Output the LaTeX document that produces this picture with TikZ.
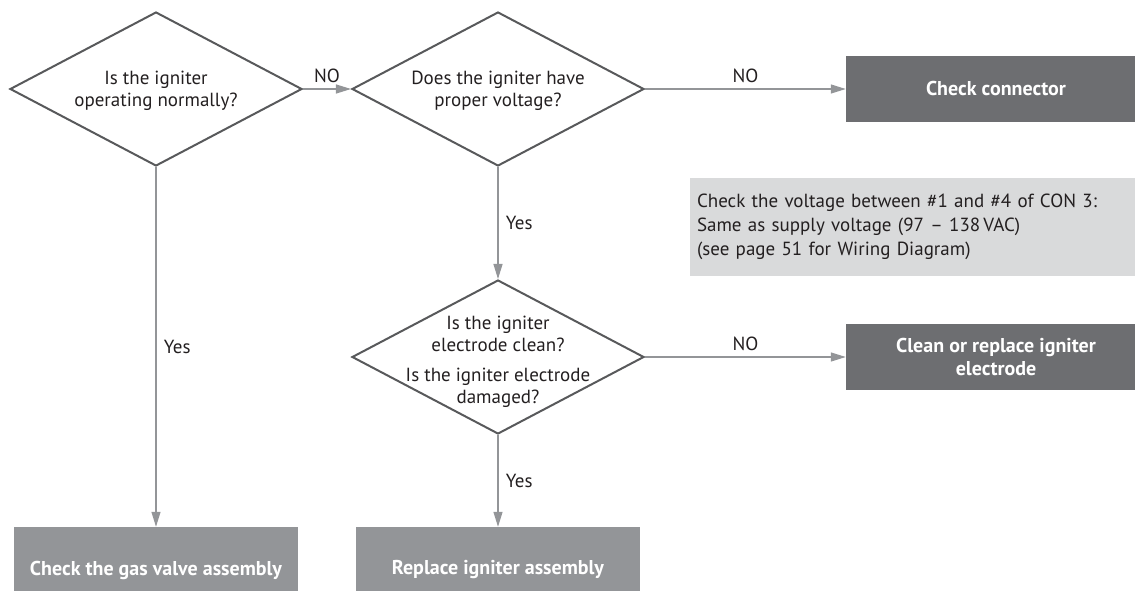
\documentclass[tikz,border=0pt]{standalone}
\usepackage{fontspec}
\setmainfont{PT Sans}
\usetikzlibrary{arrows.meta,shapes.geometric}
\definecolor{ink}{HTML}{231F20}
\definecolor{edge}{HTML}{58595B}
\definecolor{wire}{HTML}{939598}
\definecolor{darkbox}{HTML}{6D6E71}
\definecolor{midbox}{HTML}{939598}
\definecolor{notebox}{HTML}{D9DADB}

\begin{document}
\begin{tikzpicture}[x=1pt,y=-1pt,>={Triangle[length=15pt,width=9pt]},
  every node/.style={font=\fontsize{19}{22.5}\selectfont,text=ink},
  decision/.style={diamond,draw=edge,line width=2pt,minimum width=292pt,
    minimum height=154pt,inner sep=0pt},
  qtext/.style={align=center,inner sep=0pt},
  action/.style={fill=#1,minimum width=300pt,minimum height=66pt,text=white,
    font=\bfseries\fontsize{20}{23}\selectfont,align=center},
  endbox/.style={fill=midbox,minimum width=284pt,minimum height=86pt,text=white,
    font=\bfseries\fontsize{20}{23}\selectfont},
  hintbox/.style={fill=notebox,minimum width=445pt,minimum height=98pt,
    text width=431pt,inner xsep=7pt,align=left,
    font=\fontsize{19}{24}\selectfont},
  flow/.style={->,draw=wire,line width=1.2pt}]
  \useasboundingbox (0,0) rectangle (1135,591);

  % questions
  \node[decision] (q1) at (156,89) {};
  \node[qtext] (q1t) at (156,91) {Is the igniter\\operating normally?};
  \node[decision] (q2) at (498,89) {};
  \node[qtext] (q2t) at (498,91) {Does the igniter have\\proper voltage?};
  \node[decision] (q3) at (498,357) {};
  \node[qtext] (q3t) at (498,362) {Is the igniter\\electrode clean?\\[7pt]
    Is the igniter electrode\\damaged?};

  % outcomes
  \node[action=darkbox] (conn) at (996,89) {Check connector};
  \node[action=darkbox] (clean) at (996,357) {Clean or replace igniter\\electrode};
  \node[endbox] (valve) at (156,570) {Check the gas valve assembly};
  \node[endbox] (repl) at (498,570) {Replace igniter assembly};

  % hint
  \node[hintbox] (hint) at (912.5,227)
  {Check the voltage between \#1 and \#4 of CON 3:\\
   Same as supply voltage (97 -- 138\,VAC)\\
   (see page 51 for Wiring Diagram)};

  % connectors
  \draw[flow] (q1) -- node[midway,above=2pt] (no1) {NO} (q2);
  \draw[flow] (q2) -- node[midway,above=2pt] (no2) {NO} (conn);
  \draw[flow] (q3) -- node[midway,above=2pt] (no3) {NO} (clean);
  \draw[flow] (q1) -- node[midway,right=4pt] (yes1) {Yes} (valve);
  \draw[flow] (q2) -- node[midway,right=4pt] (yes2) {Yes} (q3);
  \draw[flow] (q3) -- node[midway,right=4pt] (yes3) {Yes} (repl);
\end{tikzpicture}
\end{document}
